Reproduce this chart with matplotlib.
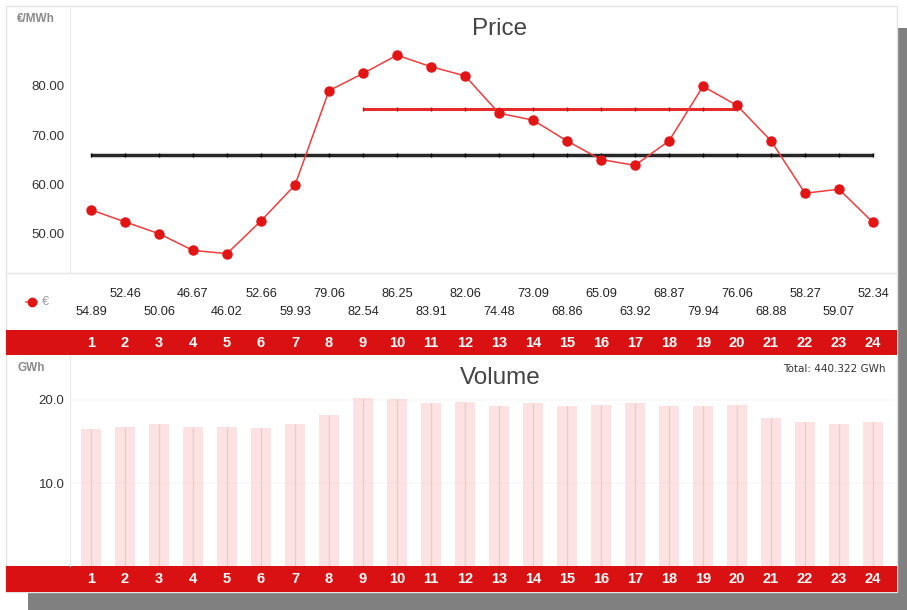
import matplotlib
matplotlib.use("Agg")
import matplotlib.pyplot as plt
from matplotlib import font_manager, transforms
from matplotlib.patches import Rectangle

# ---- data -------------------------------------------------------------
hours = list(range(1, 25))
price = [54.89, 52.46, 50.06, 46.67, 46.02, 52.66, 59.93, 79.06,
         82.54, 86.25, 83.91, 82.06, 74.48, 73.09, 68.86, 65.09,
         63.92, 68.87, 79.94, 76.06, 68.88, 58.27, 59.07, 52.34]
volume = [16.55, 16.8, 17.05, 16.7, 16.8, 16.6, 17.1, 18.15,
          20.2, 20.1, 19.65, 19.7, 19.3, 19.6, 19.3, 19.4,
          19.6, 19.3, 19.3, 19.4, 17.8, 17.4, 17.15, 17.35]
total_volume = 440.322
peak_hours = list(range(9, 21))
price_ticks = [50, 60, 70, 80]
volume_ticks = [10, 20]

base_avg = sum(price) / len(price)
peak_prices = [p for h, p in zip(hours, price) if h in peak_hours]
peak_avg = sum(peak_prices) / len(peak_prices)

# ---- fonts ------------------------------------------------------------
installed = {f.name for f in font_manager.fontManager.ttflist}
SANS = "Liberation Sans" if "Liberation Sans" in installed else "DejaVu Sans"
NARROW = "Liberation Sans Narrow" if "Liberation Sans Narrow" in installed else SANS
HAS_NARROW = NARROW != SANS
plt.rcParams["font.family"] = [SANS, "DejaVu Sans"]

RED = "#D91112"
W, H = 907, 610

fig = plt.figure(figsize=(W / 100, H / 100), dpi=100)
fig.patch.set_facecolor("white")

# full-figure canvas in pixel units (y downwards)
bg = fig.add_axes([0, 0, 1, 1], zorder=0)
bg.set_xlim(0, W)
bg.set_ylim(H, 0)
bg.axis("off")


def box(left, top, right, bottom):
    return [left / W, 1 - bottom / H, (right - left) / W, (bottom - top) / H]


# drop shadow and white card
bg.add_patch(Rectangle((28, 28), W - 28, H - 28, color="#808080", lw=0))
bg.add_patch(Rectangle((6, 6), 891, 586, facecolor="white",
                       edgecolor="#e4e4e4", lw=1))
# hour bands
bg.add_patch(Rectangle((6, 330), 891, 25, color=RED, lw=0))
bg.add_patch(Rectangle((6, 566), 891, 26, color=RED, lw=0))
bg.plot([6, 897], [272.5, 272.5], color="#e6e6e6", lw=1)


def x_from_px(px):
    return 1 + (px - 91) / 34.0


XLIM = (x_from_px(70), x_from_px(895))

# ---- price panel ------------------------------------------------------
ax_p = fig.add_axes(box(70, 8, 895, 272), zorder=2)
ax_p.set_facecolor("none")
ax_p.set_xlim(*XLIM)
ax_p.set_ylim(80 - (272 - 86) / 4.933, 80 + (86 - 8) / 4.933)
for s in ("top", "right", "bottom"):
    ax_p.spines[s].set_visible(False)
ax_p.spines["left"].set_color("#e6e6e6")
ax_p.set_xticks([])
ax_p.set_yticks(price_ticks)
ax_p.set_yticklabels([f"{v:.2f}" for v in price_ticks])
ax_p.tick_params(axis="y", length=0, labelsize=9.5, labelcolor="#333333", pad=4)

ax_p.plot(hours, [base_avg] * len(hours), color="#9a9a9a", lw=3.8,
          alpha=0.45, solid_capstyle="butt", zorder=2)
ax_p.plot(hours, [base_avg] * len(hours), color="#262626", lw=2.2,
          marker="|", ms=3.5, mew=1, mec="#000000",
          solid_capstyle="butt", zorder=2)
ax_p.plot(peak_hours, [peak_avg] * len(peak_hours), color="#E52A2A",
          lw=2.2, marker="|", ms=3.5, mew=1, mec="#C81010",
          solid_capstyle="butt", zorder=2)
ax_p.plot(hours, price, color="#F03C3C", lw=1.1, zorder=3)
ax_p.plot(hours, price, ls="none", marker="o", ms=6.5,
          color="#E31414", mec="#E31414", zorder=4)

# ---- volume panel -----------------------------------------------------
ax_v = fig.add_axes(box(70, 355, 895, 566), zorder=2)
ax_v.set_facecolor("none")
ax_v.set_xlim(*XLIM)
ax_v.set_ylim(0, (566 - 355) / 8.3)
for s in ("top", "right", "bottom"):
    ax_v.spines[s].set_visible(False)
ax_v.spines["left"].set_color("#e6e6e6")
ax_v.set_xticks([])
ax_v.set_yticks(volume_ticks)
ax_v.set_yticklabels([f"{v:.1f}" for v in volume_ticks])
ax_v.tick_params(axis="y", length=0, labelsize=9.5, labelcolor="#333333", pad=4)
ax_v.set_axisbelow(True)
ax_v.yaxis.grid(True, color="#f8f8f8", lw=1.2)
ax_v.bar(hours, volume, width=0.59, color="#FBC6C6", alpha=0.5,
         lw=0, zorder=2)
ax_v.vlines(hours, 0, volume, color="#F6C4C4", lw=0.9, zorder=3)

# ---- texts ------------------------------------------------------------
px_row = transforms.blended_transform_factory(ax_p.transData, bg.transData)

hour_size = 11.5 if HAS_NARROW else 10.5
title_size = 19 if HAS_NARROW else 17.5

for h in hours:
    for yb in (343, 579):
        bg.text(h, yb, str(h), transform=px_row, ha="center", va="center",
                color="white", fontsize=hour_size, fontweight="bold",
                family=NARROW)

for i, (h, p) in enumerate(zip(hours, price)):
    y = 312 if i % 2 == 0 else 294
    bg.text(h, y, f"{p:.2f}", transform=px_row, ha="center", va="center",
            fontsize=9.2, color="#222222")

bg.text(500, 29, "Price", ha="center", va="center", fontsize=title_size,
        color="#444444", family=NARROW)
bg.text(500, 378, "Volume", ha="center", va="center", fontsize=title_size,
        color="#444444", family=NARROW)
bg.text(17, 19, "€/MWh", ha="left", va="center", fontsize=8.5,
        color="#8a8a8a", fontweight="bold")
bg.text(17, 368, "GWh", ha="left", va="center", fontsize=8.5,
        color="#8a8a8a", fontweight="bold")
bg.text(886, 369, f"Total: {total_volume:.3f} GWh", ha="right", va="center",
        fontsize=7.5, color="#333333", family="DejaVu Sans")

# legend
bg.plot([26, 37], [302, 302], color="#F03C3C", lw=1.1)
bg.plot([31.5], [302], ls="none", marker="o", ms=6, color="#E31414")
bg.text(42, 302, "€", ha="left", va="center", fontsize=9, color="#9a9a9a")

fig.savefig("out.png", dpi=100)
